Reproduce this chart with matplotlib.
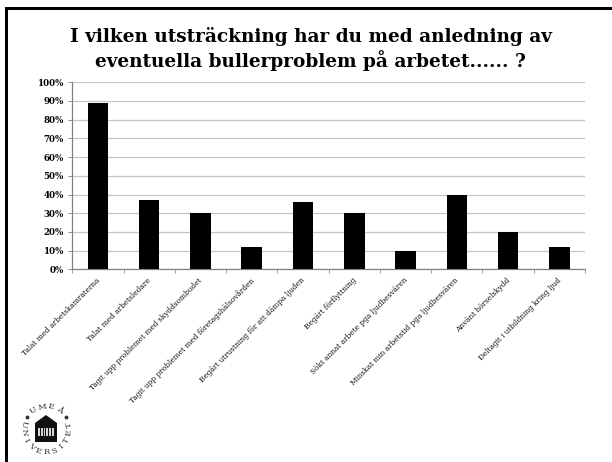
import numpy as np
import matplotlib.pyplot as plt
from matplotlib.patches import Polygon, Rectangle
from matplotlib.transforms import ScaledTranslation

categories = [
    'Talat med arbetskamraterna',
    'Talat med arbetsledare',
    'Tagit upp problemet med skyddsombudet',
    'Tagit upp problemet med företagshälsovården',
    'Begärt utrustning för att dämpa ljuden',
    'Begärt förflyttning',
    'Sökt annat arbete pga ljudbesvären',
    'Minskat min arbetstid pga ljudbesvären',
    'Använt hörselskydd',
    'Deltagit i utbildning kring ljud',
]
values = [89, 37, 30, 12, 36, 30, 10, 40, 20, 12]
y_ticks = list(range(0, 101, 10))
title_lines = ['I vilken utsträckning har du med anledning av',
               'eventuella bullerproblem på arbetet...... ?']

W, H = 612, 462
plt.rcParams['font.family'] = ['DejaVu Serif']

fig = plt.figure(figsize=(W / 100, H / 100), dpi=100)

# pixel-space layer for the slide frame and logo
bg = fig.add_axes([0, 0, 1, 1])
bg.set_xlim(0, W)
bg.set_ylim(H, 0)
bg.axis('off')
bg.add_patch(Rectangle((5, 7), 3, H - 7, color='black', lw=0))
bg.add_patch(Rectangle((5, 7), W - 5, 3, color='black', lw=0))

bg.text(311, 36, title_lines[0], ha='center', va='center', fontsize=13.3, fontweight='bold')
bg.text(310, 60.5, title_lines[1], ha='center', va='center', fontsize=13.3, fontweight='bold')

# chart
left, right, top, bottom = 72.3, 585, 82.3, 269.3
ax = fig.add_axes([left / W, 1 - bottom / H, (right - left) / W, (bottom - top) / H])
x = np.arange(len(categories))
ax.bar(x, values, width=0.4, color='black', zorder=3)
ax.set_xlim(-0.5, len(categories) - 0.5)
ax.set_ylim(0, 100)
ax.set_yticks(y_ticks)
ax.set_yticklabels([f'{v}%' for v in y_ticks], fontsize=6.2, fontweight='bold')
ax.grid(axis='y', color='#c4c4c4', lw=0.9, zorder=0)
ax.set_xticks(np.arange(len(categories) + 1) - 0.5, minor=False)
ax.set_xticklabels([])
ax.set_xticks(x, minor=True)
ax.set_xticklabels(categories, minor=True, rotation=45, ha='right', va='top',
                   rotation_mode='anchor', fontsize=5.3, color='#111111')
ax.tick_params(axis='x', which='minor', length=0, pad=5)
ax.tick_params(axis='x', which='major', length=3, width=0.7, color='#a0a0a0')
ax.tick_params(axis='y', length=3, width=0.7, color='#909090', pad=3)

# nudge the slanted labels so they end just under the bar centres
nudge = ScaledTranslation(-2 / 100, 0, fig.dpi_scale_trans)
for label in ax.get_xticklabels(minor=True):
    label.set_transform(label.get_transform() + nudge)

for side in ['top', 'right']:
    ax.spines[side].set_visible(False)
for side in ['left', 'bottom']:
    ax.spines[side].set_color('#808080')
    ax.spines[side].set_linewidth(0.9)

# university seal: building with lettering round it
cx, cy, r = 46.5, 429.5, 23
bg.add_patch(Polygon([(35, 423), (46, 415), (57, 423), (57, 442), (35, 442)],
                     closed=True, color='#111111', lw=0))
for px in [38, 43.5, 49]:
    bg.add_patch(Rectangle((px, 428), 4.6, 8, color='#d8d8d8', lw=0))
    bg.add_patch(Rectangle((px + 1.8, 428), 1, 8, color='#111111', lw=0))

seal_top = 'UMEÅ'
seal_bottom = 'UNIVERSITET'
for ch, ang in zip(seal_top, np.linspace(-34, 34, len(seal_top))):
    a = np.radians(ang)
    bg.text(cx + r * np.sin(a), cy - r * np.cos(a), ch, ha='center', va='center',
            rotation=-ang, fontsize=6, color='#333333')
for ch, ang in zip(seal_bottom, np.linspace(283, 77, len(seal_bottom))):
    a = np.radians(ang)
    bg.text(cx + r * np.sin(a), cy - r * np.cos(a), ch, ha='center', va='center',
            rotation=180 - ang, fontsize=6, color='#333333')
for ang in [-56, 56]:
    a = np.radians(ang)
    bg.plot(cx + r * np.sin(a), cy - r * np.cos(a), 'o', ms=1.8, color='#333333')

fig.savefig('out.png', dpi=100)
